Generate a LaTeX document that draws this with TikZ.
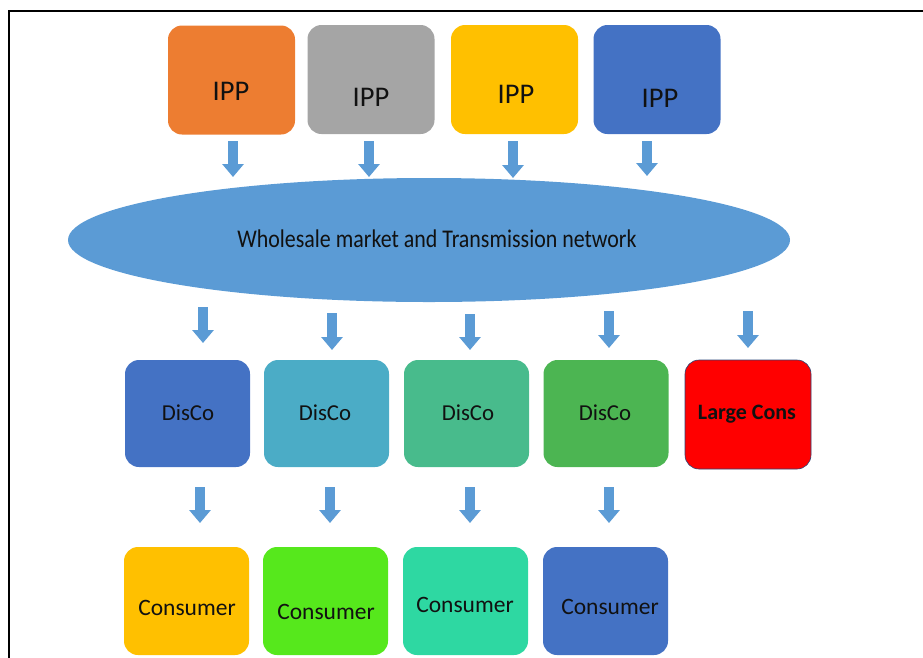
\documentclass[tikz,border=0pt]{standalone}
\usepackage{fontspec}
\setmainfont{Carlito}
\newfontfamily\narrowfont[FakeStretch=0.86]{Carlito}
\usetikzlibrary{arrows.meta,shapes.geometric}

\definecolor{cOrange}{HTML}{ED7D31}
\definecolor{cGray}{HTML}{A5A5A5}
\definecolor{cGold}{HTML}{FFC000}
\definecolor{cBlue}{HTML}{4472C4}
\definecolor{cSky}{HTML}{5B9BD5}
\definecolor{cTeal}{HTML}{4BACC6}
\definecolor{cSea}{HTML}{48BB8C}
\definecolor{cGreen}{HTML}{4CB552}
\definecolor{cLime}{HTML}{56E81C}
\definecolor{cMint}{HTML}{2ED8A2}
\definecolor{cText}{HTML}{111111}

\tikzset{
  x=1pt, y=-1pt,
  box/.style={rounded corners=14pt, inner sep=0pt, text=cText},
  ipp/.style={box, minimum width=127pt, minimum height=109pt},
  disco/.style={box, minimum width=125pt, minimum height=107pt},
  cons/.style={box, minimum width=125pt, minimum height=108pt},
  ipplabel/.style={text=cText, inner sep=0pt, font=\fontsize{28.5}{31}\selectfont},
  discolabel/.style={text=cText, inner sep=0pt, font=\fontsize{22.8}{25}\selectfont},
  conslabel/.style={text=cText, inner sep=0pt, font=\fontsize{23.5}{26}\selectfont},
  flow/.style={cSky, line width=10pt, -{Triangle[width=21pt,length=13pt]}},
}

\begin{document}
\begin{tikzpicture}
\useasboundingbox (0,0) rectangle (923,657);

% outer frame (runs past the right and bottom edges)
\draw[line width=1.4pt] (9,700) -- (9,11) -- (960,11);

% generators
\node[ipp, fill=cOrange] (ipp1) at (231.5,80) {};
\node[ipp, fill=cGray]   (ipp2) at (371,79.5) {};
\node[ipp, fill=cGold]   (ipp3) at (514.5,79.5) {};
\node[ipp, fill=cBlue]   (ipp4) at (657,79.5) {};
\node[ipplabel] (t1) at (231,91) {IPP};
\node[ipplabel] (t2) at (371,97) {IPP};
\node[ipplabel] (t3) at (516,94) {IPP};
\node[ipplabel] (t4) at (660,98) {IPP};

% market
\node[ellipse, fill=cSky, minimum width=722pt, minimum height=124pt, inner sep=0pt] (market) at (429,240) {};
\node[text=cText, inner sep=0pt, font=\narrowfont\fontsize{25.5}{28}\selectfont] (mtext) at (437,239)
  {Wholesale market and Transmission network};

% distribution companies and the large consumer
\node[disco, fill=cBlue]  (d1) at (187.5,413.5) {};
\node[disco, fill=cTeal]  (d2) at (326.5,413.5) {};
\node[disco, fill=cSea]   (d3) at (466.5,413.5) {};
\node[disco, fill=cGreen] (d4) at (606,413.5) {};
\node[box, fill=red, draw=cBlue!60!black, line width=0.6pt, minimum width=126pt,
      minimum height=109pt] (lc) at (748,414.5) {};
\node[discolabel] (dt1) at (188,413) {DisCo};
\node[discolabel] (dt2) at (325,413) {DisCo};
\node[discolabel] (dt3) at (468,413) {DisCo};
\node[discolabel] (dt4) at (605,413) {DisCo};
\node[text=cText, inner sep=0pt, font=\bfseries\fontsize{22}{25}\selectfont] (lct) at (747,414) {Large Cons};

% consumers
\node[cons, fill=cGold] (c1) at (186.5,601) {};
\node[cons, fill=cLime] (c2) at (325.5,601) {};
\node[cons, fill=cMint] (c3) at (465.5,601) {};
\node[cons, fill=cBlue] (c4) at (605.5,601) {};
\node[conslabel] (ct1) at (187,608) {Consumer};
\node[conslabel] (ct2) at (326,612) {Consumer};
\node[conslabel] (ct3) at (465,605) {Consumer};
\node[conslabel] (ct4) at (610,607) {Consumer};

% block arrows: generators to market
\coordinate (a1s) at (233,141); \coordinate (a1e) at (233,177);
\coordinate (a2s) at (369,141); \coordinate (a2e) at (369,177);
\coordinate (a3s) at (513,141); \coordinate (a3e) at (513,178);
\coordinate (a4s) at (647,141); \coordinate (a4e) at (647,176);
\foreach \i in {1,...,4} \draw[flow] (a\i s) -- (a\i e);

% block arrows: market to distribution
\coordinate (b1s) at (203,307); \coordinate (b1e) at (203,343);
\coordinate (b2s) at (332,313); \coordinate (b2e) at (332,350);
\coordinate (b3s) at (470,314); \coordinate (b3e) at (470,350);
\coordinate (b4s) at (609,311); \coordinate (b4e) at (609,348);
\coordinate (b5s) at (748,311); \coordinate (b5e) at (748,348);
\foreach \i in {1,...,5} \draw[flow] (b\i s) -- (b\i e);

% block arrows: distribution to consumers
\coordinate (e1s) at (200,487); \coordinate (e1e) at (200,523);
\coordinate (e2s) at (330,487); \coordinate (e2e) at (330,523);
\coordinate (e3s) at (470,487); \coordinate (e3e) at (470,523);
\coordinate (e4s) at (609,487); \coordinate (e4e) at (609,523);
\foreach \i in {1,...,4} \draw[flow] (e\i s) -- (e\i e);
\end{tikzpicture}
\end{document}
